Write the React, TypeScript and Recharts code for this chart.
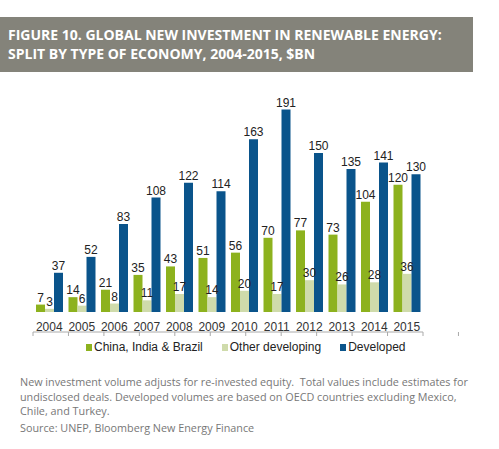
import { Bar, BarChart, LabelList, Legend, XAxis, YAxis } from "recharts"

const years = ["2004", "2005", "2006", "2007", "2008", "2009", "2010", "2011", "2012", "2013", "2014", "2015"]
const chinaIndiaBrazil = [7, 14, 21, 35, 43, 51, 56, 70, 77, 73, 104, 120]
const otherDeveloping = [3, 6, 8, 11, 17, 14, 20, 17, 30, 26, 28, 36]
const developed = [37, 52, 83, 108, 122, 114, 163, 191, 150, 135, 141, 130]
const boundaryTicks = [0, 1, 2, 3, 4, 5, 6, 7, 8, 9, 10, 11, 12]

const data = years.map((year, i) => ({
  year,
  cib: chinaIndiaBrazil[i],
  other: otherDeveloping[i],
  dev: developed[i],
}))

const GREEN = "#8db21e"
const LIGHT = "#cfdbab"
const BLUE = "#0a548b"

const series = [
  { key: "cib", name: "China, India & Brazil", color: GREEN },
  { key: "other", name: "Other developing", color: LIGHT },
  { key: "dev", name: "Developed", color: BLUE },
]

const labelStyle = { fontFamily: "Liberation Sans, Arial, sans-serif", fontSize: 12, fill: "#222" }

function LegendRow() {
  return (
    <div
      style={{
        display: "flex",
        gap: 19,
        fontFamily: "Liberation Sans, Arial, sans-serif",
        fontSize: 12,
        color: "#222",
        paddingLeft: 86,
      }}
    >
      {series.map((s) => (
        <span key={s.key} style={{ display: "flex", alignItems: "center" }}>
          <span style={{ width: 6, height: 7, background: s.color, marginRight: 2 }} />
          {s.name}
        </span>
      ))}
    </div>
  )
}

export default function App() {
  return (
    <div
      style={{
        position: "absolute",
        left: 0,
        top: 0,
        width: 499,
        height: 449,
        background: "#fff",
        overflow: "hidden",
      }}
    >
      <div
        style={{
          position: "absolute",
          left: 0,
          top: 17,
          width: 473,
          height: 55,
          background: "#84837a",
          color: "#fff",
          fontFamily: "Open Sans, sans-serif",
          fontWeight: 700,
          fontSize: 14,
          lineHeight: "19px",
          padding: "8px 0 0 8px",
          boxSizing: "border-box",
        }}
      >
        FIGURE 10. GLOBAL NEW INVESTMENT IN RENEWABLE ENERGY:
        <br />
        SPLIT BY TYPE OF ECONOMY, 2004-2015, $BN
      </div>

      <div style={{ position: "absolute", left: 0, top: 0 }}>
        <BarChart
          width={499}
          height={340}
          data={data}
          margin={{ top: 100, right: 76, bottom: 7, left: 33 }}
          barGap={0}
          barCategoryGap={2}
        >
          <YAxis hide domain={[0, 200]} />
          <XAxis
            xAxisId="grid"
            type="number"
            domain={[0, 12]}
            ticks={boundaryTicks}
            height={1}
            stroke="#aaa"
            tickSize={4}
            tickFormatter={() => ""}
            allowDataOverflow
          />
          <XAxis
            dataKey="year"
            height={20}
            axisLine={false}
            tickLine={false}
            tick={{ ...labelStyle, fill: "#333" }}
            tickMargin={4}
            interval={0}
          />
          <Legend
            verticalAlign="middle"
            align="center"
            wrapperStyle={{ top: 340, left: 0, width: 499 }}
            content={() => <LegendRow />}
          />
          {series.map((s) => (
            <Bar key={s.key} dataKey={s.key} name={s.name} fill={s.color} barSize={9} isAnimationActive={false}>
              <LabelList dataKey={s.key} position="top" offset={3} style={labelStyle} />
            </Bar>
          ))}
        </BarChart>
      </div>

      <div
        style={{
          position: "absolute",
          left: 20,
          top: 375,
          width: 475,
          fontFamily: "Open Sans, sans-serif",
          fontSize: 10.8,
          lineHeight: "14.5px",
          color: "#777",
        }}
      >
        New investment volume adjusts for re-invested equity.&nbsp; Total values include estimates for
        <br />
        undisclosed deals. Developed volumes are based on OECD countries excluding Mexico,
        <br />
        Chile, and Turkey.
        <div style={{ marginTop: 2 }}>Source: UNEP, Bloomberg New Energy Finance</div>
      </div>
    </div>
  )
}
